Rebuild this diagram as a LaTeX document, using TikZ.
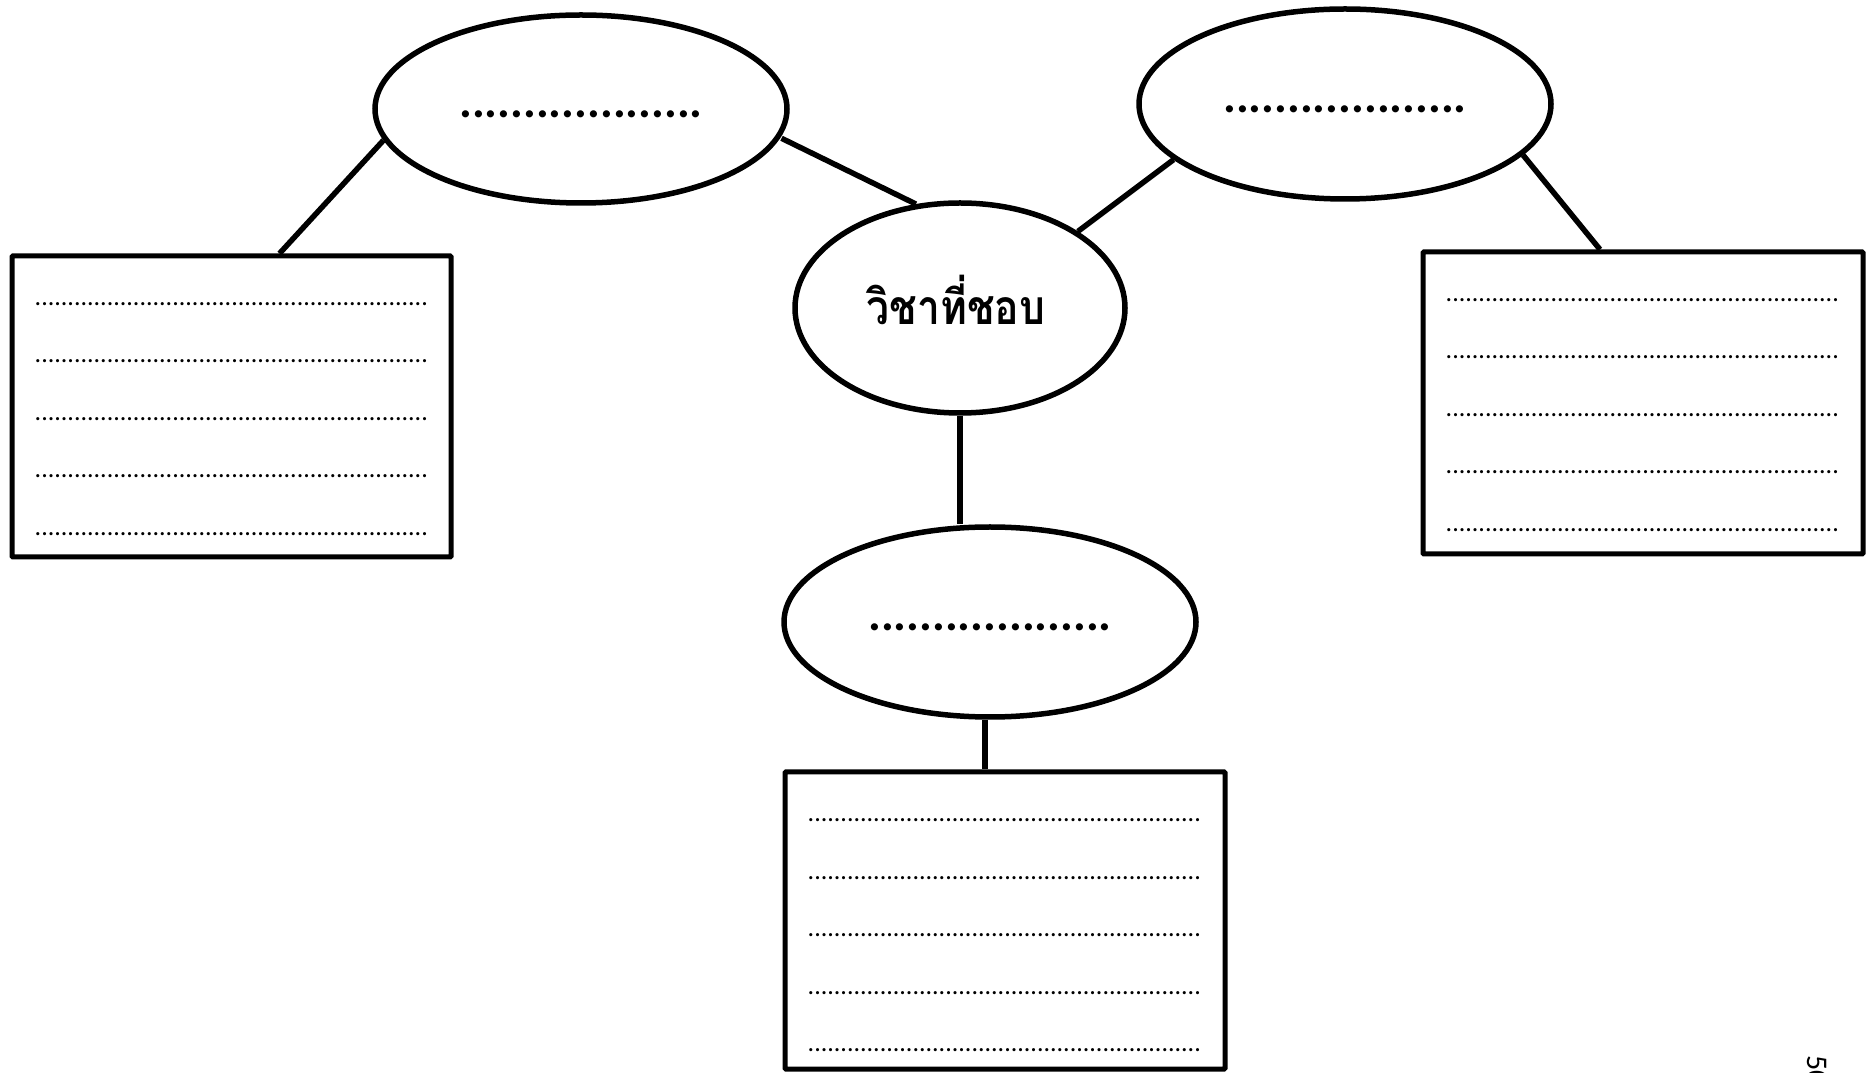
\documentclass[tikz,border=0pt]{standalone}
\usepackage{fontspec}
\setmainfont{Carlito}
\newfontfamily\thaifont[Script=Thai]{Loma}
\usetikzlibrary{shapes.geometric}
\newcommand{\dotline}{............................................................}
\newcommand{\dotblank}{...................}
\begin{document}
\begin{tikzpicture}[x=1pt,y=1pt,
  topic/.style={ellipse, draw, line width=5.5pt, inner sep=0pt,
    text height=18pt, text depth=0pt,
    font=\fontsize{48}{50}\selectfont\bfseries},
  notebox/.style={draw, line width=5pt, inner sep=0pt, rounded corners=1pt,
    minimum width=439pt, minimum height=301pt},
  link/.style={line width=5.5pt},
  ruled/.style={font=\fontsize{26}{30}\selectfont, inner sep=0pt, anchor=base west}
]
\useasboundingbox (0,0) rectangle (1875,1072);

% ellipses
\node[topic, minimum width=412pt, minimum height=188pt] (LE) at (581,963) {\dotblank};
\node[topic, minimum width=412pt, minimum height=190pt] (RE) at (1345,968) {\dotblank};
\node[topic, minimum width=412pt, minimum height=190pt] (BE) at (990,450) {\dotblank};
\node[ellipse, draw, line width=5.5pt, inner sep=0pt,
      minimum width=330pt, minimum height=210pt] (C) at (960,764) {};
\node[font=\thaifont\bfseries\fontsize{48}{52}\selectfont, inner sep=0pt, xscale=0.85] (Ct) at ([xshift=-4pt,yshift=8pt]C.center) {วิชาที่ชอบ};

% boxes
\node[notebox] (LB) at (231.5,665.5) {};
\node[notebox, minimum width=440pt, minimum height=302pt] (RB) at (1643,669) {};
\node[notebox, minimum width=440pt, minimum height=297pt] (BB) at (1005,151.5) {};

\foreach \b in {LB,RB,BB} {
  \foreach \i in {0,...,4} {
    \node[ruled] (\b-l\i) at ([xshift=25pt, yshift={-52-57.5*\i}]\b.north west) {\dotline};
  }
}

% connectors
\draw[link] (LE.189) -- ([xshift=48pt]LB.north);
\draw[link] ([shift={(3pt,2pt)}]LE.351) -- (C.113);
\draw[link] (RE.198) -- (C.33);
\draw[link] (RE.344) -- ([xshift=-43pt]RB.north);
\draw[link] (C.south) -- (C.south |- BE.north);
\draw[link] ([xshift=-5pt]BE.south) -- ([xshift=-5pt]BE.south |- BB.north);

% page number
\node[font=\fontsize{30}{32}\selectfont, rotate=-90, anchor=base west, inner sep=0pt] (pg) at (1807,17) {50};
\end{tikzpicture}
\end{document}
